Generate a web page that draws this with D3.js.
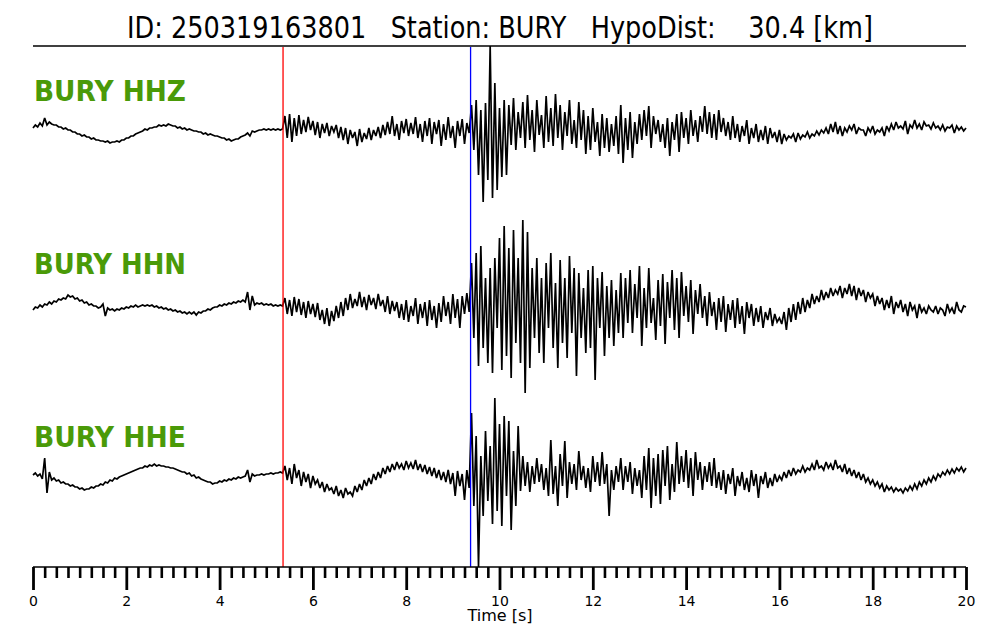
<!DOCTYPE html>
<html><head><meta charset="utf-8">
<script src="https://cdn.jsdelivr.net/npm/d3@7"></script>
<style>body{margin:0;background:#fff}svg{display:block}</style>
</head><body><svg id="c" width="1000" height="640"></svg>
<script>
const eventId = "250319163801";
const station = "BURY";
const hypoDist = "30.4";
const channels = ["HHZ", "HHN", "HHE"];
const pPick = 5.36;   // s
const sPick = 9.38;   // s
const majorTicks = [0,2,4,6,8,10,12,14,16,18,20];
const tickLabels = ["0","2","4","6","8","10","12","14","16","18","20"];

// Samples every 0.05 s from 0 to 20 s (amplitude counts, up positive)
const hhz = [
2,5,3,7,4,12,5,8,6,5,5,3,3,1,2,0,0,-2,-2,-4,
-4,-6,-5,-7,-7,-9,-8,-10,-10,-11,-11,-12,-11,-13,-12,-12,-11,-12,-10,-10,
-8,-8,-6,-6,-4,-3,-2,-1,1,0,2,2,3,3,5,4,5,4,6,5,
4,4,2,3,1,2,0,1,0,-1,-1,-2,-2,-4,-3,-5,-4,-5,-6,-6,
-7,-8,-8,-10,-9,-11,-10,-9,-9,-7,-6,-5,-3,-6,-1,-2,-1,0,0,1,
0,1,0,1,0,1,0,1,14,-8,16,-12,12,-6,15,-4,10,-2,13,0,
9,-5,8,-8,6,-3,7,-6,4,-2,5,-8,3,-10,2,-14,0,-8,-2,-16,
1,-12,-3,-9,2,-10,0,-6,3,-8,5,-5,8,-4,14,-6,6,-10,9,-3,
11,-6,7,-4,13,-8,6,-12,9,-6,12,-14,8,-4,10,-16,6,-10,13,-8,
4,-18,9,-6,11,-14,7,-3,25,-20,30,-45,20,-72,27,-50,84,-68,47,-60,
22,-47,30,-45,25,-15,32,-20,18,-8,28,-18,35,-10,20,-22,30,-5,15,-18,
34,-12,22,-16,36,-8,25,-20,18,-6,30,-14,10,-18,28,-10,20,-24,14,-20,
22,-12,8,-26,16,-18,12,-22,6,-16,14,-24,25,-33,12,-20,18,-28,8,-14,
16,-10,20,-6,24,-18,14,-4,10,-12,6,-18,12,-26,8,-10,16,-22,18,-8,
12,-14,20,-6,10,-12,14,-2,24,-4,18,-8,16,-10,20,-2,12,-6,8,-10,
14,-8,6,-12,4,-6,10,-14,2,-8,6,-12,0,-10,4,-14,2,-8,-2,-12,
0,-14,-4,-10,-6,-8,-4,-12,-3,-9,-5,-7,-2,-8,-4,-6,-1,-5,0,-3,
2,-4,6,-2,8,-4,4,-6,2,-2,4,0,6,-4,2,0,0,-6,2,-2,
4,-4,0,-2,2,-6,4,-1,6,0,8,2,4,1,9,-4,5,2,10,2,
6,0,8,4,5,1,7,2,4,0,5,-1,3,2,5,-3,4,0,3,-1,
2
];
const hhn = [
-2,1,0,3,1,4,3,6,4,7,6,9,8,10,9,13,11,12,9,10,
7,8,5,6,3,4,2,2,0,1,4,-8,0,-2,-1,-3,-1,-2,0,-1,
1,0,2,1,3,1,2,3,2,3,2,3,1,2,0,1,-1,0,-2,-1,
-3,-2,-4,-3,-5,-4,-6,-4,-6,-4,-7,-4,-5,-3,-3,-1,-2,0,1,1,
3,2,4,3,5,4,6,5,7,6,8,6,16,-2,12,3,5,4,5,3,
4,3,4,2,3,2,3,2,10,-6,8,-8,11,-4,9,-7,6,-10,7,-6,
4,-9,5,-12,-2,-16,0,-18,-3,-13,2,-10,6,-8,10,-2,14,0,9,2,
16,1,11,-2,13,3,10,-1,14,2,8,-4,12,-6,7,-3,6,-10,4,-12,
8,-14,2,-8,10,-16,4,-10,6,-18,8,-12,2,-20,5,-14,12,-8,6,-16,
14,-10,9,-20,12,-6,15,-4,45,-30,55,-58,62,-40,30,-55,40,-65,50,-20,
70,-62,82,-48,60,-70,78,-35,50,-55,88,-85,76,-60,40,-30,50,-45,30,-55,
45,-20,55,-40,25,-60,48,-35,30,-50,52,-25,40,-68,35,-30,20,-45,38,-40,
42,-72,30,-20,36,-48,22,-30,28,-38,18,-25,35,-30,30,-15,38,-25,24,-10,
42,-38,20,-20,40,-15,10,-32,28,-18,34,-36,26,-10,38,-22,30,-30,36,-8,
22,-14,28,-26,18,-6,24,-10,12,-18,16,-8,6,-22,10,-14,12,-24,4,-12,
8,-20,10,-16,2,-26,6,-10,4,-18,0,-14,2,-20,-4,-12,0,-18,-6,-14,
-10,-16,-4,-22,0,-14,4,-12,6,-6,10,-4,8,0,14,4,12,6,18,8,
16,10,20,12,18,14,22,10,20,14,24,12,22,8,20,12,18,6,16,10,
14,2,12,4,10,-2,8,0,12,-6,6,0,8,-4,4,-8,6,-2,2,-10,
4,-4,0,-6,2,-2,-4,2,-6,0,-2,-8,4,-4,0,-6,6,-2,-4,2,
1
];
const hhe = [
1,3,0,2,-3,18,-17,4,-4,-2,-5,-4,-7,-6,-8,-8,-10,-9,-11,-11,
-13,-12,-14,-13,-13,-11,-12,-10,-10,-8,-9,-6,-7,-4,-5,-2,-3,-1,0,1,
2,3,4,5,6,7,8,8,10,9,11,10,12,10,11,10,10,9,9,8,
8,7,6,5,4,4,2,3,0,1,-2,-1,-3,-4,-5,-6,-6,-8,-7,-7,
-5,-6,-4,-5,-3,-4,-2,-3,-1,-2,-1,0,6,-6,2,0,1,1,2,1,
2,2,3,2,3,3,4,3,10,-4,8,-8,12,-2,6,-10,4,-6,2,-12,
0,-8,-4,-12,-6,-16,-8,-14,-12,-18,-10,-20,-14,-22,-12,-18,-16,-20,-10,-16,
-8,-14,-4,-10,-2,-8,2,-4,4,-2,8,2,10,4,12,6,14,8,12,6,
15,8,13,7,16,6,12,4,11,2,9,0,8,-2,6,-4,4,-6,6,-8,
3,-20,5,-10,2,-24,6,-12,63,-30,40,-91,20,-40,45,-25,30,-48,78,-35,
52,-50,60,-20,55,-54,25,-30,50,-15,20,-10,14,-16,10,-8,18,-6,12,-14,
8,-20,36,-18,10,-30,22,-10,35,-22,14,-8,12,-14,25,-4,10,-12,8,-16,
20,-6,14,-10,24,-8,12,-40,6,-14,10,-6,18,-14,10,-6,14,-18,8,-10,
6,-22,20,-14,28,-32,18,-20,22,-28,26,-10,30,-24,12,-16,34,-8,20,-6,
26,-12,18,-20,24,-4,14,-14,10,-6,14,-10,18,-12,4,-14,6,-18,2,-8,
8,-20,0,-10,4,-14,-2,-16,6,-10,2,-22,0,-8,4,-12,-2,-10,2,-6,
0,-4,4,-2,6,0,8,2,6,4,10,4,8,6,12,6,16,8,10,6,
14,8,12,6,16,8,10,4,12,2,8,0,6,-2,4,-4,2,-6,-2,-8,
-4,-10,-6,-12,-8,-16,-10,-14,-11,-16,-12,-15,-13,-17,-12,-15,-10,-14,-8,-13,
-6,-10,-4,-8,-2,-6,0,-4,2,-1,4,1,6,2,7,3,8,5,9,4,
8
];
const traces = [hhz, hhn, hhe];

const svg = d3.select("#c");
const x = d3.scaleLinear().domain([0, 20]).range([33, 966]);
const centers = [130, 308, 476];
const labelY = [101, 274, 447];

// title
svg.append("text")
  .attr("x", 500).attr("y", 38)
  .attr("text-anchor", "middle")
  .attr("font-family", "DejaVu Sans")
  .attr("font-size", 30)
  .attr("textLength", 746).attr("lengthAdjust", "spacingAndGlyphs")
  .style("white-space", "pre")
  .text(`ID: ${eventId}   Station: ${station}   HypoDist:    ${hypoDist} [km]`);

svg.append("line").attr("x1", 33).attr("x2", 966).attr("y1", 46).attr("y2", 46)
  .attr("stroke", "#000").attr("stroke-width", 1.5);

traces.forEach((vals, k) => {
  const n = vals.length;
  const y = d3.scaleLinear().domain([-100, 100]).range([centers[k] + 100, centers[k] - 100]);
  const line = d3.line().x((d, i) => x(i * 20 / (n - 1))).y(d => y(d));
  svg.append("path").datum(vals).attr("d", line)
    .attr("fill", "none").attr("stroke", "#000").attr("stroke-width", 1.7)
    .attr("stroke-linejoin", "miter").attr("stroke-miterlimit", 3);
  svg.append("text")
    .attr("x", 34).attr("y", labelY[k])
    .attr("font-family", "DejaVu Sans").attr("font-weight", "bold")
    .attr("font-size", 29).attr("fill", "#4a9a08")
    .attr("textLength", 152).attr("lengthAdjust", "spacingAndGlyphs")
    .text(`${station} ${channels[k]}`);
});

// picks
[[pPick, "#ff0000"], [sPick, "#0000ff"]].forEach(([t, c]) => {
  svg.append("line").attr("x1", x(t)).attr("x2", x(t)).attr("y1", 47).attr("y2", 567)
    .attr("stroke", c).attr("stroke-width", 1.3);
});

// axis
const axisY = 567;
const minor = d3.range(0, 20.001, 0.25).filter(v => Math.abs(v / 2 - Math.round(v / 2)) > 1e-6);
const gMinor = svg.append("g").attr("transform", `translate(0,${axisY})`)
  .call(d3.axisBottom(x).tickValues(minor).tickSize(11).tickSizeOuter(0).tickFormat(""));
gMinor.select(".domain").remove();
gMinor.selectAll(".tick line").attr("stroke-width", 2.6);
const gMajor = svg.append("g").attr("transform", `translate(0,${axisY})`)
  .call(d3.axisBottom(x).tickValues(majorTicks).tickSize(23).tickSizeOuter(0)
    .tickFormat((d, i) => tickLabels[i]));
gMajor.select(".domain").attr("stroke-width", 1.5).attr("d", `M${x(0)},0H${x(20)}`);
gMajor.selectAll(".tick line").attr("stroke-width", 2.8);
gMajor.selectAll(".tick text").attr("y", 39).attr("dy", 0)
  .attr("font-family", "DejaVu Sans").attr("font-size", 14).attr("fill", "#000");

svg.append("text").attr("x", 500).attr("y", 621).attr("text-anchor", "middle")
  .attr("font-family", "DejaVu Sans").attr("font-size", 16).text("Time [s]");
</script>
</body></html>
